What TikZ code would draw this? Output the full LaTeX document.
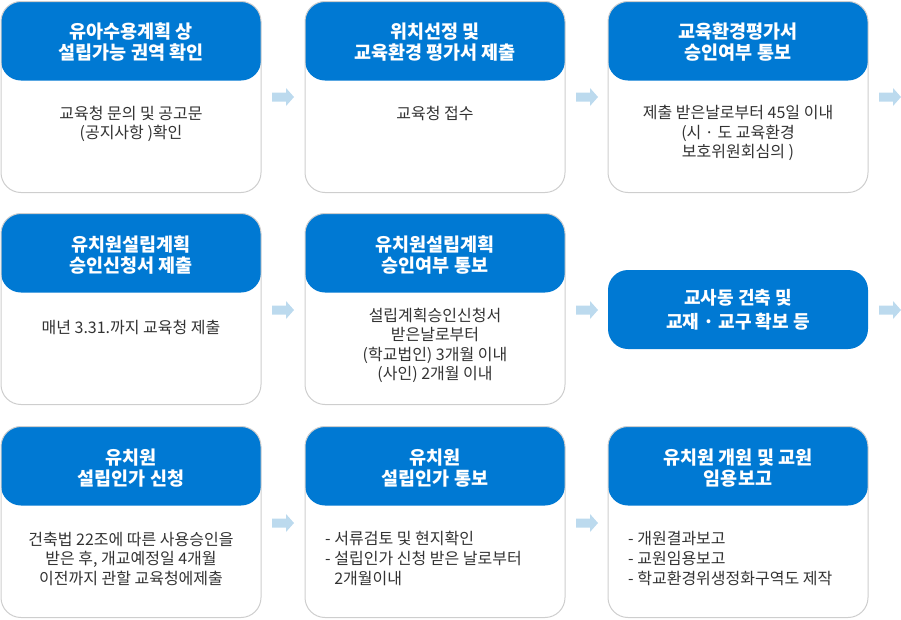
\documentclass[tikz,border=0pt]{standalone}
\usepackage{fontspec}
\setmainfont{Noto Sans CJK KR}
\definecolor{hdrblue}{RGB}{0,121,211}
\definecolor{bordergray}{RGB}{206,206,206}
\definecolor{arrowblue}{RGB}{188,218,238}
\definecolor{txtgray}{RGB}{51,51,51}
\tikzset{
  stepcard/.style={draw=bordergray, line width=1pt, fill=white, rounded corners=20pt,
    minimum width=260pt, minimum height=191pt, inner sep=0pt,
    path picture={\fill[hdrblue] (path picture bounding box.north west) rectangle ([yshift=-79pt]path picture bounding box.north east);}},
  pillcard/.style={fill=hdrblue, rounded corners=20pt, minimum width=260pt, minimum height=79pt,
    inner sep=0pt, text=white, align=center, font=\fontsize{18}{24}\selectfont\bfseries},
  hdrtext/.style={text=white, align=center, inner sep=0pt, font=\fontsize{18.5}{21.5}\selectfont\bfseries},
  bodytext/.style={text=txtgray, align=center, inner sep=0pt, font=\fontsize{16}{19.5}\selectfont},
  listtext/.style={text=txtgray, align=left, inner sep=0pt, anchor=west, font=\fontsize{16}{20}\selectfont},
  barrow/.pic={\fill[arrowblue] (0,-4.5) -- (14,-4.5) -- (14,-9) -- (22,0) -- (14,9) -- (14,4.5) -- (0,4.5) -- cycle;}
}
\begin{document}
\begin{tikzpicture}[x=1pt,y=-1pt]
\useasboundingbox (0,0) rectangle (901,619);
% row 1
\node[stepcard] (b11) at (131,97) {};
\node[stepcard] (b12) at (435,97) {};
\node[stepcard] (b13) at (738,97) {};
% row 2
\node[stepcard] (b21) at (131,309) {};
\node[stepcard] (b22) at (435,309) {};
\node[pillcard] (p23) at (738,309.5) {교사동 건축 및\\교재 · 교구 확보 등};
% row 3
\node[stepcard] (b31) at (131,522) {};
\node[stepcard] (b32) at (435,522) {};
\node[stepcard] (b33) at (738,522) {};
% headers
\node[hdrtext] (h11) at (131,42) {유아수용계획 상\\설립가능 권역 확인};
\node[hdrtext] (h12) at (435,42) {위치선정 및\\교육환경 평가서 제출};
\node[hdrtext] (h13) at (738,42) {교육환경평가서\\승인여부 통보};
\node[hdrtext] (h21) at (131,255) {유치원설립계획\\승인신청서 제출};
\node[hdrtext] (h22) at (435,255) {유치원설립계획\\승인여부 통보};
\node[hdrtext] (h31) at (131,468) {유치원\\설립인가 신청};
\node[hdrtext] (h32) at (435,468) {유치원\\설립인가 통보};
\node[hdrtext] (h33) at (738,468) {유치원 개원 및 교원\\임용보고};
% bodies
\node[bodytext] (t11) at (131,124) {교육청 문의 및 공고문\\(공지사항 )확인};
\node[bodytext] (t12) at (435,113.5) {교육청 접수};
\node[bodytext] (t13) at (738,133) {제출 받은날로부터 45일 이내\\(시 · 도 교육환경\\보호위원회심의 )};
\node[bodytext] (t21) at (131,327.5) {매년 3.31.까지 교육청 제출};
\node[bodytext] (t22) at (435,345.5) {설립계획승인신청서\\받은날로부터\\(학교법인) 3개월 이내\\(사인) 2개월 이내};
\node[bodytext] (t31) at (131,558.5) {건축법 22조에 따른 사용승인을\\받은 후, 개교예정일 4개월\\이전까지 관할 교육청에제출};
\node[listtext] (t32) at (325,558.5) {- 서류검토 및 현지확인\\- 설립인가 신청 받은 날로부터\\\hphantom{- }2개월이내};
\node[listtext] (t33) at (628,558.5) {- 개원결과보고\\- 교원임용보고\\- 학교환경위생정화구역도 제작};
% arrows
\pic at (272,97) {barrow};
\pic at (576,97) {barrow};
\pic at (879,97) {barrow};
\pic at (272,310) {barrow};
\pic at (576,310) {barrow};
\pic at (879,310) {barrow};
\pic at (272,523) {barrow};
\pic at (576,523) {barrow};
\end{tikzpicture}
\end{document}
